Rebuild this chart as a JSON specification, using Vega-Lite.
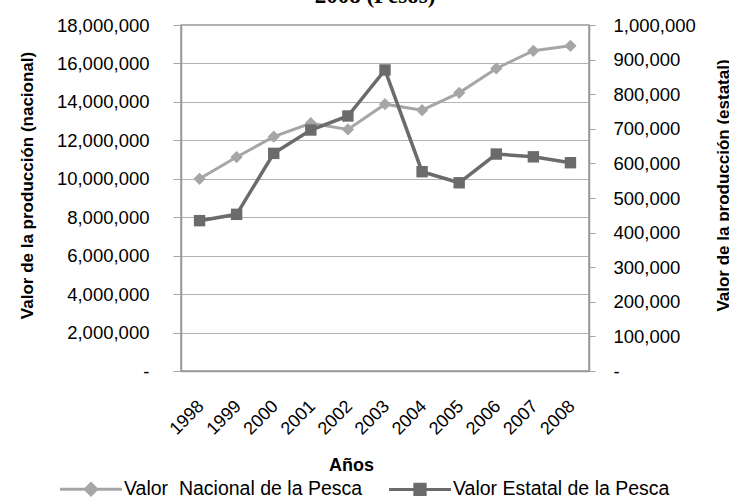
{
  "$schema": "https://vega.github.io/schema/vega-lite/v6.json",
  "width": 408,
  "height": 346,
  "autosize": {"type": "none"},
  "padding": {"left": 181, "top": 25, "right": 140, "bottom": 129},
  "background": "white",
  "title": {
    "text": "2008 (Pesos)",
    "font": "Liberation Serif",
    "fontSize": 23,
    "fontWeight": "bold",
    "color": "black",
    "anchor": "middle",
    "frame": "group",
    "offset": 0,
    "dx": -10,
    "dy": -8
  },
  "data": {
    "values": [
      {"anio": "1998", "serie": "Valor  Nacional de la Pesca", "valor": 10000000},
      {"anio": "1999", "serie": "Valor  Nacional de la Pesca", "valor": 11130000},
      {"anio": "2000", "serie": "Valor  Nacional de la Pesca", "valor": 12190000},
      {"anio": "2001", "serie": "Valor  Nacional de la Pesca", "valor": 12890000},
      {"anio": "2002", "serie": "Valor  Nacional de la Pesca", "valor": 12570000},
      {"anio": "2003", "serie": "Valor  Nacional de la Pesca", "valor": 13880000},
      {"anio": "2004", "serie": "Valor  Nacional de la Pesca", "valor": 13570000},
      {"anio": "2005", "serie": "Valor  Nacional de la Pesca", "valor": 14470000},
      {"anio": "2006", "serie": "Valor  Nacional de la Pesca", "valor": 15740000},
      {"anio": "2007", "serie": "Valor  Nacional de la Pesca", "valor": 16660000},
      {"anio": "2008", "serie": "Valor  Nacional de la Pesca", "valor": 16920000},
      {"anio": "1998", "serie": "Valor Estatal de la Pesca", "valor": 434500},
      {"anio": "1999", "serie": "Valor Estatal de la Pesca", "valor": 452800},
      {"anio": "2000", "serie": "Valor Estatal de la Pesca", "valor": 629000},
      {"anio": "2001", "serie": "Valor Estatal de la Pesca", "valor": 696500},
      {"anio": "2002", "serie": "Valor Estatal de la Pesca", "valor": 737000},
      {"anio": "2003", "serie": "Valor Estatal de la Pesca", "valor": 870000},
      {"anio": "2004", "serie": "Valor Estatal de la Pesca", "valor": 576000},
      {"anio": "2005", "serie": "Valor Estatal de la Pesca", "valor": 544000},
      {"anio": "2006", "serie": "Valor Estatal de la Pesca", "valor": 627000},
      {"anio": "2007", "serie": "Valor Estatal de la Pesca", "valor": 619000},
      {"anio": "2008", "serie": "Valor Estatal de la Pesca", "valor": 602000}
    ]
  },
  "encoding": {
    "x": {
      "field": "anio",
      "type": "ordinal",
      "scale": {"type": "point", "padding": 0.5},
      "axis": {
        "title": "Años",
        "titleFont": "Liberation Sans",
        "titleFontSize": 18,
        "titleFontWeight": "bold",
        "titleColor": "black",
        "titleX": 170,
        "titleY": 94,
        "titleAlign": "center",
        "titleBaseline": "middle",
        "labelAngle": -45,
        "labelFont": "Liberation Sans",
        "labelFontSize": 18,
        "labelColor": "black",
        "labelPadding": 26,
        "labelOffset": -5,
        "ticks": false,
        "domainColor": "#999999",
        "domainWidth": 1.5,
        "grid": false
      }
    },
    "color": {
      "field": "serie",
      "type": "nominal",
      "scale": {
        "domain": ["Valor  Nacional de la Pesca", "Valor Estatal de la Pesca"],
        "range": ["#a6a6a6", "#6b6b6b"]
      },
      "legend": {
        "orient": "none",
        "direction": "horizontal",
        "legendX": -123,
        "legendY": 452,
        "title": null,
        "labelFont": "Liberation Sans",
        "labelFontSize": 19.5,
        "labelColor": "black",
        "labelLimit": 400,
        "labelExpr": "replace(datum.label, '  ', ' \u00a0')",
        "symbolSize": 425,
        "symbolStrokeWidth": 3,
        "symbolOffset": 21,
        "labelOffset": 21,
        "columnPadding": 20,
        "symbolType": "M-3,0H3M0,-0.5L0.5,0L0,0.5L-0.5,0Z",
        "encode": {
          "symbols": {
            "update": {
              "shape": {"signal": "datum.value === 'Valor Estatal de la Pesca' ? 'M-3,0H3M-0.5,-0.5H0.5V0.5H-0.5Z' : 'M-3,0H3M0,-0.55L0.55,0L0,0.55L-0.55,0Z'"},
              "fill": {"signal": "datum.value === 'Valor Estatal de la Pesca' ? '#6b6b6b' : '#a6a6a6'"},
              "stroke": {"signal": "datum.value === 'Valor Estatal de la Pesca' ? '#6b6b6b' : '#a6a6a6'"},
              "opacity": {"value": 1}
            }
          }
        }
      }
    }
  },
  "layer": [
    {
      "transform": [{"filter": "datum.serie === 'Valor  Nacional de la Pesca'"}],
      "mark": {
        "type": "line",
        "strokeWidth": 3,
        "point": {"shape": "diamond", "size": 150, "filled": true, "opacity": 1}
      },
      "encoding": {
        "y": {
          "field": "valor",
          "type": "quantitative",
          "scale": {"domain": [0, 18000000], "nice": false, "zero": true},
          "axis": {
            "title": "Valor de la producción (nacional)",
            "titleFont": "Liberation Sans",
            "titleFontSize": 17,
            "titleFontWeight": "bold",
            "titleColor": "black",
            "titleAngle": -90,
            "titleX": -154,
            "titleY": 160,
            "titleAlign": "center",
            "titleBaseline": "middle",
            "values": [0, 2000000, 4000000, 6000000, 8000000, 10000000, 12000000, 14000000, 16000000, 18000000],
            "labelExpr": "datum.value === 0 ? '-' : format(datum.value, ',')",
            "labelFont": "Liberation Sans",
            "labelFontSize": 18.5,
            "labelColor": "black",
            "labelPadding": 24,
            "tickSize": 8,
            "tickColor": "#a6a6a6",
            "domainColor": "#999999",
            "domainWidth": 1.5,
            "grid": true,
            "gridColor": "#b3b3b3",
            "gridWidth": 1.2
          }
        }
      }
    },
    {
      "transform": [{"filter": "datum.serie === 'Valor Estatal de la Pesca'"}],
      "mark": {
        "type": "line",
        "strokeWidth": 3.5,
        "point": {"shape": "square", "size": 130, "filled": true, "opacity": 1}
      },
      "encoding": {
        "y": {
          "field": "valor",
          "type": "quantitative",
          "scale": {"domain": [0, 1000000], "nice": false, "zero": true},
          "axis": {
            "orient": "right",
            "title": "Valor de la producción (estatal)",
            "titleFont": "Liberation Sans",
            "titleFontSize": 17,
            "titleFontWeight": "bold",
            "titleColor": "black",
            "titleAngle": -90,
            "titleX": 134,
            "titleY": 160,
            "titleAlign": "center",
            "titleBaseline": "middle",
            "values": [0, 100000, 200000, 300000, 400000, 500000, 600000, 700000, 800000, 900000, 1000000],
            "labelExpr": "datum.value === 0 ? '-' : format(datum.value, ',')",
            "labelFont": "Liberation Sans",
            "labelFontSize": 18.5,
            "labelColor": "black",
            "labelPadding": 18,
            "tickSize": 6,
            "tickColor": "#a6a6a6",
            "domainColor": "#999999",
            "domainWidth": 1.5,
            "grid": false
          }
        }
      }
    }
  ],
  "resolve": {"scale": {"y": "independent"}},
  "config": {
    "view": {"stroke": "#999999", "strokeWidth": 1.5}
  }
}
